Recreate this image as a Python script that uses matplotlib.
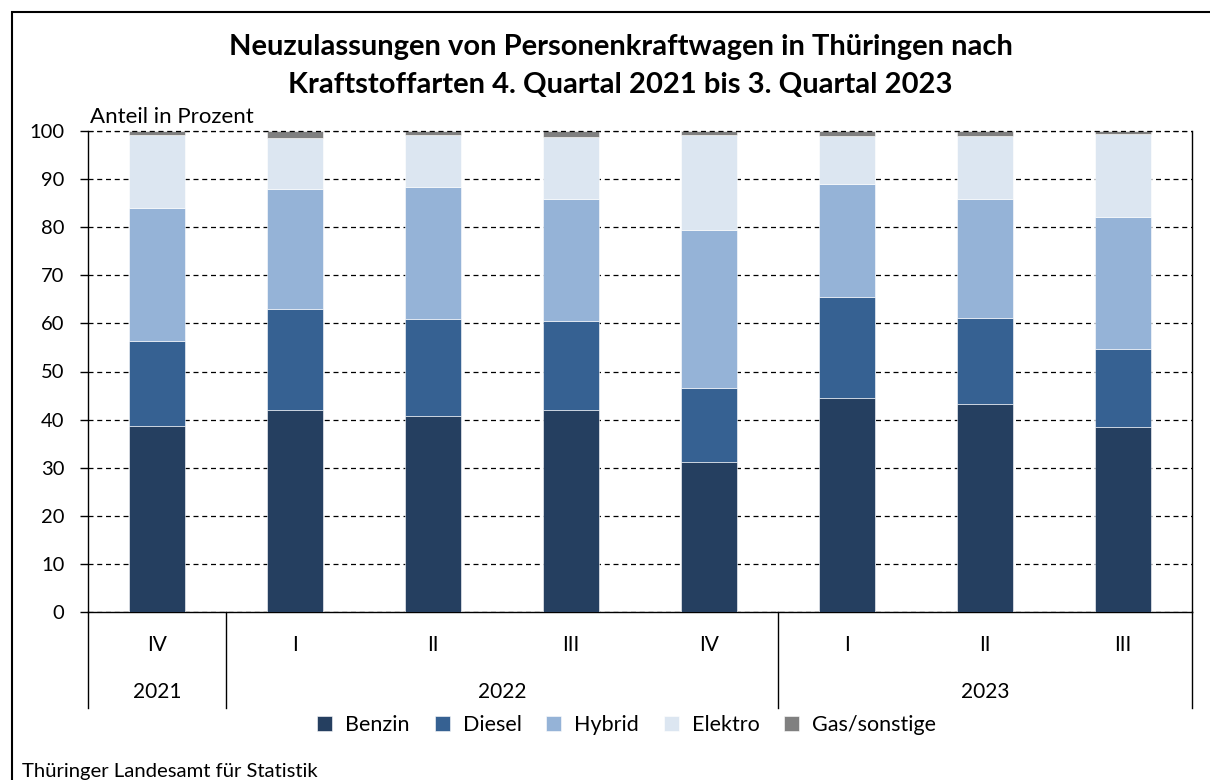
"""Neuzulassungen von Pkw in Thüringen nach Kraftstoffarten, Q4 2021 bis Q3 2023."""
import matplotlib
matplotlib.use("Agg")
import matplotlib.pyplot as plt
from matplotlib.patches import Rectangle
import numpy as np

plt.rcParams["font.family"] = ["Lato", "DejaVu Sans"]

QUARTERS = ["IV", "I", "II", "III", "IV", "I", "II", "III"]
YEARS = ["2021", "2022", "2023"]
YEAR_SPANS = [(0, 0), (1, 4), (5, 7)]  # first/last quarter index per year

SERIES = ["Benzin", "Diesel", "Hybrid", "Elektro", "Gas/sonstige"]
benzin = [38.6, 41.9, 40.7, 41.9, 31.1, 44.4, 43.2, 38.4]
diesel = [17.8, 21.0, 20.3, 18.5, 15.4, 21.0, 18.0, 16.2]
hybrid = [27.6, 25.1, 27.4, 25.5, 33.0, 23.6, 24.7, 27.6]
elektro = [15.2, 10.5, 10.8, 12.9, 19.6, 10.0, 13.1, 17.1]
gas = [0.8, 1.5, 0.8, 1.2, 0.9, 1.0, 1.0, 0.7]
COLORS = ["#253f60", "#366192", "#95b3d7", "#dce6f1", "#808080"]

fig = plt.figure(figsize=(12.1, 7.8), dpi=100)
ax = fig.add_axes([88 / 1210, 1 - 612 / 780, (1192 - 88) / 1210, (612 - 131) / 780])

x = np.arange(len(QUARTERS))
bottom = np.zeros(len(QUARTERS))
handles = []
for name, vals, col in zip(SERIES, [benzin, diesel, hybrid, elektro, gas], COLORS):
    b = ax.bar(x, vals, 0.4, bottom=bottom, color=col, edgecolor="white",
               linewidth=0.4, zorder=3, label=name)
    handles.append(b)
    bottom += np.array(vals)

ax.set_xlim(-0.5, len(QUARTERS) - 0.5)
ax.set_ylim(0, 100)
ax.set_yticks(range(0, 101, 10))
ax.tick_params(axis="y", length=6, width=1, labelsize=14.5, pad=11)
ax.set_xticks([])
ax.yaxis.grid(True, linestyle=(0, (4, 3)), color="black", linewidth=0.9, zorder=0)
for s in ax.spines.values():
    s.set_linewidth(1)
ax.spines["top"].set_visible(False)

ax.text(0.002, 100.8, "Anteil in Prozent", fontsize=16, ha="left", va="bottom",
        transform=ax.get_yaxis_transform())
ax.plot([-0.5, len(QUARTERS) - 0.5], [100, 100], color="black",
        linestyle=(0, (4, 3)), linewidth=0.9, zorder=4, clip_on=False)

# category axis: quarters and years below the plot
tr = ax.get_xaxis_transform()
y_sep = -(708 - 612) / 481
for i, q in enumerate(QUARTERS):
    ax.text(i, -(645 - 612) / 481, q, ha="center", va="center", fontsize=15, transform=tr)
seps = [-0.5] + [end + 0.5 for _, end in YEAR_SPANS]
for sx in seps:
    ax.plot([sx, sx], [0, y_sep], color="black", linewidth=1, transform=tr, clip_on=False)
for yr, (a, b) in zip(YEARS, YEAR_SPANS):
    ax.text((a + b) / 2, -(692 - 612) / 481, yr, ha="center", va="center",
            fontsize=15, transform=tr)

fig.text(0.513, 1 - 47 / 780, "Neuzulassungen von Personenkraftwagen in Thüringen nach",
         ha="center", va="center", fontsize=21, fontweight="bold")
fig.text(0.513, 1 - 85 / 780, "Kraftstoffarten 4. Quartal 2021 bis 3. Quartal 2023",
         ha="center", va="center", fontsize=21, fontweight="bold")

fig.legend(handles, SERIES, loc="center", bbox_to_anchor=(0.518, 1 - 725 / 780),
           ncol=5, frameon=False, fontsize=15.5, handlelength=0.7, handleheight=0.7,
           columnspacing=1.15, handletextpad=0.6)

fig.text(22 / 1210, 1 - 771 / 780, "Thüringer Landesamt für Statistik",
         ha="left", va="center", fontsize=14.6)

fig.patches.append(Rectangle((12 / 1210, -0.1), 1.2, 1 - 12 / 780 + 0.1,
                             transform=fig.transFigure, fill=False,
                             edgecolor="black", linewidth=1.5))

fig.savefig("out.png", dpi=100)
